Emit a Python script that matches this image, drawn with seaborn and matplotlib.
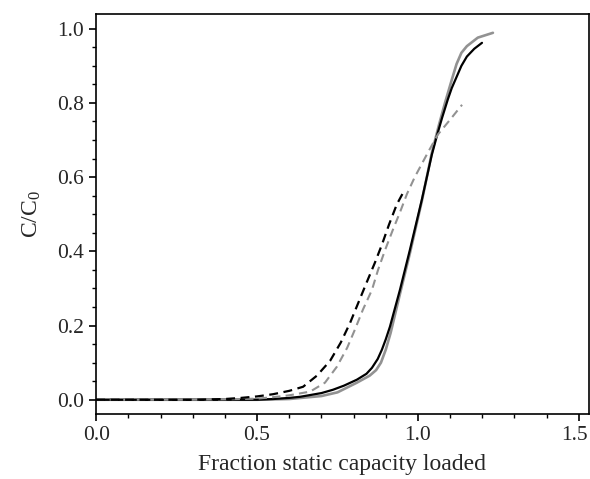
import matplotlib
matplotlib.use("Agg")
import matplotlib.pyplot as plt
import matplotlib.transforms as mtransforms
import seaborn as sns
import pandas as pd
from matplotlib.ticker import MultipleLocator, FormatStrFormatter

# Black solid curve
black_solid_x = [0.0, 0.1, 0.2, 0.3, 0.4, 0.5, 0.55, 0.6, 0.634, 0.7, 0.736, 0.77, 0.81, 0.84, 0.857,
                 0.875, 0.888, 0.9, 0.913, 0.944, 0.975, 1.012, 1.043, 1.06, 1.075, 1.093, 1.105,
                 1.12, 1.135, 1.152, 1.175, 1.199]
black_solid_y = [0.0, 0.0, 0.0, 0.0, 0.0, 0.0, 0.002, 0.005, 0.008, 0.018, 0.027, 0.038, 0.054, 0.07, 0.086,
                 0.11, 0.135, 0.163, 0.197, 0.296, 0.404, 0.539, 0.66, 0.715, 0.76, 0.81, 0.84,
                 0.87, 0.9, 0.925, 0.946, 0.962]

# Gray solid curve
gray_solid_x = [0.0, 0.1, 0.2, 0.3, 0.4, 0.5, 0.6, 0.7, 0.75, 0.81, 0.85, 0.87, 0.885, 0.9, 0.915,
                0.944, 0.975, 1.012, 1.043, 1.065, 1.084, 1.106, 1.12, 1.135, 1.152, 1.186, 1.233]
gray_solid_y = [0.0, 0.0, 0.0, 0.0, 0.0, 0.0, 0.002, 0.01, 0.02, 0.046, 0.065, 0.08, 0.1, 0.135, 0.18,
                0.285, 0.395, 0.535, 0.665, 0.74, 0.80, 0.865, 0.905, 0.935, 0.953, 0.976, 0.989]

# Black dashed curve
black_dash_x = [0.0, 0.1, 0.2, 0.3, 0.4, 0.45, 0.5, 0.55, 0.6, 0.643, 0.686, 0.727, 0.76, 0.789, 0.814,
                0.84, 0.866, 0.888, 0.91, 0.934, 0.955]
black_dash_y = [0.0, 0.0, 0.0, 0.0, 0.002, 0.005, 0.009, 0.015, 0.024, 0.035, 0.065, 0.105, 0.154, 0.207, 0.26,
                0.315, 0.369, 0.418, 0.472, 0.526, 0.56]

# Gray dashed curve
gray_dash_x = [0.0, 0.1, 0.2, 0.3, 0.4, 0.5, 0.55, 0.6, 0.665, 0.711, 0.748, 0.78, 0.804, 0.829, 0.857,
               0.876, 0.898, 0.922, 0.944, 0.966, 0.99, 1.03, 1.062, 1.10, 1.137]
gray_dash_y = [0.0, 0.0, 0.0, 0.0, 0.001, 0.003, 0.007, 0.012, 0.022, 0.046, 0.089, 0.14, 0.189, 0.243, 0.296,
               0.35, 0.404, 0.458, 0.505, 0.555, 0.60, 0.665, 0.715, 0.755, 0.795]

sns.set_style("ticks")
plt.rcParams['font.family'] = ['Liberation Serif', 'DejaVu Serif']
plt.rcParams['mathtext.fontset'] = 'custom'
plt.rcParams['mathtext.rm'] = 'Liberation Serif'
plt.rcParams['mathtext.it'] = 'Liberation Serif'

fig = plt.figure(figsize=(5.9, 4.79), dpi=100)
ax = fig.add_axes([0.163, 0.136, 0.835, 0.835])

gray = "#929292"
series = [
    (black_solid_x, black_solid_y, "black", "-", 1.6),
    (gray_solid_x, gray_solid_y, gray, "-", 1.9),
    (black_dash_x, black_dash_y, "black", "--", 1.6),
    (gray_dash_x, gray_dash_y, gray, "--", 1.5),
]
order = [1, 0, 3, 2]
for i in order:
    xs, ys, c, ls, lw = series[i]
    df = pd.DataFrame({"x": xs, "y": ys})
    line_kw = dict(dashes=(4, 2.5)) if ls == "--" else {}
    sns.lineplot(data=df, x="x", y="y", ax=ax, color=c, linewidth=lw,
                 estimator=None, sort=False, **line_kw)

ax.set_xlim(0, 1.531)
ax.set_ylim(-0.038, 1.04)
ax.xaxis.set_major_locator(MultipleLocator(0.5))
ax.xaxis.set_minor_locator(MultipleLocator(0.1))
ax.yaxis.set_major_locator(MultipleLocator(0.2))
ax.yaxis.set_minor_locator(MultipleLocator(0.05))
ax.xaxis.set_major_formatter(FormatStrFormatter('%.1f'))
ax.yaxis.set_major_formatter(FormatStrFormatter('%.1f'))
ax.tick_params(which='major', direction='out', length=5, width=1.2, labelsize=15.5,
               color='black', pad=4)
ax.tick_params(which='minor', direction='out', length=3, width=1.0, color='black')
for s in ax.spines.values():
    s.set_color('black')
    s.set_linewidth(1.2)
ax.set_xlabel("Fraction static capacity loaded", fontsize=17, labelpad=6)
ax.set_ylabel("C/C$_0$", fontsize=17, labelpad=10)

# nudge the last x tick label so it stays inside the canvas
fig.canvas.draw()
shift = mtransforms.ScaledTranslation(-4 / 100, 0, fig.dpi_scale_trans)
for lab in ax.get_xticklabels():
    if lab.get_text() == "1.5":
        lab.set_transform(lab.get_transform() + shift)

fig.savefig("out.png", dpi=100)
